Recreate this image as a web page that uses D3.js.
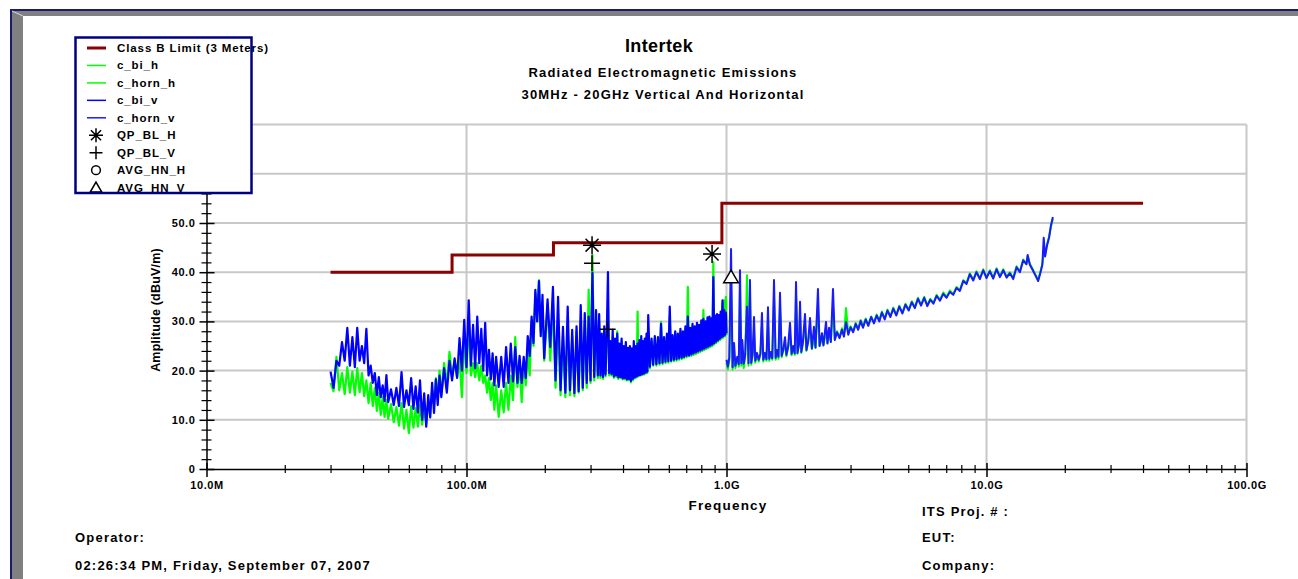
<!DOCTYPE html>
<html>
<head>
<meta charset="utf-8">
<script src="https://cdn.jsdelivr.net/npm/d3@7"></script>
<style>
  body { margin: 0; background: #fff; }
  text { font-family: "Liberation Sans", Arial, sans-serif; font-weight: bold; fill: #000; }
</style>
</head>
<body>
<svg></svg>
<script>
// ---- data (frequency in MHz, level in dBuV/m) ----

let xTickValues = [10, 100, 1000, 10000, 100000];
let xTickLabels = ['10.0M', '100.0M', '1.0G', '10.0G', '100.0G'];
let yTickValues = [0, 10, 20, 30, 40, 50, 60, 70];
// 60 and 70 sit under the legend box
let yTickLabels = ['0', '10.0', '20.0', '30.0', '40.0', '50.0', '', ''];

// Class B limit, steps at 88, 216 and 960 MHz
let limitFreq = [30, 88, 216, 960, 40000];
let limitLevel = [40, 43.5, 46, 54, 54];

// biconical sweep 30 MHz - 1 GHz
let biFreq = [
  30, 30.8, 31.6, 32.4, 33.2, 34, 34.8, 35.6, 36.4, 37.2, 38, 38.8, 39.6, 40.4, 41.2, 42, 42.8, 43.6, 44.4, 45.2, 46, 46.8, 47.6, 48.4, 49.2, 50,
  51.25, 52.5, 53.75, 55, 56.25, 57.5, 58.75, 60, 61.25, 62.5, 63.75, 65, 66.25, 67.5, 68.75, 70, 71.25, 72.5, 73.75, 75, 76.25, 77.5, 78.75, 80,
  82, 84, 86, 88, 90, 92, 94, 96, 98, 100, 102, 104, 106, 108, 110, 112, 114, 116, 118, 120, 122, 124, 126, 128, 130,
  133, 136, 139, 142, 145, 148, 151, 154, 157, 160, 163, 166, 169, 172, 175, 178, 181, 184, 187, 190, 193, 196, 199,
  205, 210, 215, 220, 225, 230, 235, 240, 245, 250, 255, 260, 265, 270, 275, 280, 285, 290, 295, 300, 305, 310, 315, 320,
  323.75, 327.5, 331.25, 335, 338.75, 342.5, 346.25, 350, 353.75, 357.5, 361.25, 365, 368.75, 372.5, 376.25, 380,
  383.75, 387.5, 391.25, 395, 398.75, 402.5, 406.25, 410, 413.75, 417.5, 421.25, 425, 428.75, 432.5, 436.25, 440,
  443.75, 447.5, 451.25, 455, 458.75, 462.5, 466.25, 470, 473.75, 477.5, 481.25, 485, 488.75, 492.5, 496.25, 500,
  507.5, 515, 522.5, 530, 537.5, 545, 552.5, 560, 567.5, 575, 582.5, 590, 597.5, 605, 612.5, 620, 627.5, 635, 642.5, 650,
  657.5, 665, 672.5, 680, 687.5, 695, 702.5, 710, 717.5, 725, 732.5, 740, 747.5, 755, 762.5, 770, 777.5, 785, 792.5, 800,
  807.5, 815, 822.5, 830, 837.5, 845, 852.5, 860, 867.5, 875, 882.5, 890, 897.5, 905, 912.5, 920, 927.5, 935, 942.5, 950,
  957.5, 965, 972.5, 980, 987.5, 995, 1000
];
let biH = [
  17.5, 15.8, 22.8, 16, 19.5, 15.2, 20.7, 15.5, 19.8, 15, 20.5, 15.6, 19.5, 14.8, 18, 13.4, 17.5, 12.8, 16.5, 11.8, 15.5, 11, 14.6, 10.6, 14, 10.2,
  13.2, 9.5, 12.6, 8.8, 13.4, 8.2, 12, 7.3, 12.8, 8.4, 12.4, 8.6, 13, 9, 12, 9.3, 13.5, 11, 16, 13, 18.5, 14.6, 20, 15,
  21.5, 17, 23.8, 18.7, 22, 18.7, 22.5, 14.6, 27, 19.5, 31, 19, 21.5, 18.7, 21.5, 18, 21, 17.5, 19, 15.5, 18.5, 14, 17.5, 12, 17,
  10.6, 16, 11.5, 17.5, 12, 19, 14, 26.8, 16.7, 21.5, 13.6, 22, 17, 23.6, 19, 30, 25, 35.8, 30, 38.4, 28, 33, 22,
  33.5, 22, 34, 16.5, 30, 15, 27, 14.6, 29, 15, 27, 14.8, 28, 15.5, 30, 16, 30, 16.5, 36.4, 17.5, 43.5, 18, 30, 18.5,
  30, 18.5, 27, 18.3, 28, 18.8, 26.5, 33, 19, 25.5, 19, 27, 18.5, 26, 18.7, 28,
  18.3, 25, 18.5, 26, 18.2, 24.8, 18.2, 25, 18, 24.3, 18.1, 24.8, 17.6, 24.2, 18, 25,
  18.4, 24.6, 18.6, 32, 18.8, 25.5, 19, 26, 19.1, 25.5, 19.2, 26, 19.4, 26.8, 19.5, 27,
  20.5, 26, 21, 26.5, 21, 26.3, 21.2, 29.9, 21.3, 26.5, 21.5, 27, 21.6, 31, 21.8, 27, 21.9, 27.6, 22, 27.3,
  22.2, 28, 22.3, 27.8, 22.5, 28.5, 22.7, 37, 22.9, 28.5, 23, 29, 23.2, 28.8, 23.4, 29.3, 23.6, 29, 23.8, 30,
  24, 32.3, 24.2, 29.8, 24.4, 30.2, 24.6, 30.5, 24.8, 30.3, 25, 42, 25.3, 30.8, 25.6, 31, 25.9, 31, 26.2, 31.5,
  26.5, 33.5, 26.7, 34.3, 27, 35, 27.2
];
let biV = [
  19.8, 16.5, 22, 21, 25.8, 22, 28.7, 21, 26.8, 20.7, 28.7, 22, 25, 21.5, 28.5, 19, 21, 17.5, 19.5, 15, 18.7, 14.6, 17, 13.8, 19.1, 13.6,
  16.2, 13, 16.5, 12.8, 19.7, 12.6, 16, 13, 18.5, 12.2, 16.8, 11.5, 18, 10, 15.4, 8.6, 15, 10.5, 17.5, 11.4, 18.2, 13, 19, 14.6,
  20.5, 15.5, 22, 18, 22.5, 18.5, 26.6, 20, 30.3, 20.7, 34.3, 21, 29.3, 20.5, 31, 21.5, 28.5, 20, 29.7, 19, 24.2, 18.2, 23.5, 17, 22.8,
  16.7, 22.8, 16.7, 24.8, 17.5, 25.5, 17.8, 24.8, 17.5, 23, 17.5, 22.8, 18.5, 27, 23, 31, 25.6, 36.4, 30, 38.2, 27, 35.4, 22.5,
  34.5, 24.8, 37, 18, 35, 16, 28.9, 15.5, 33, 16, 28.3, 15.4, 29, 15.8, 33.3, 16.5, 31.7, 17.5, 31, 18, 39.8, 18.7, 32.3, 19,
  31.5, 19, 27.5, 18.7, 29, 19.2, 27, 40, 19.5, 26, 19.3, 28.3, 18.8, 26.5, 19, 27.5,
  18.6, 25.5, 18.7, 26.5, 18.4, 25, 18.5, 25.8, 18.2, 24.6, 18.3, 25, 17.9, 24.5, 18.3, 26,
  18.6, 25, 18.8, 25.5, 19, 26.2, 19.1, 27, 19.3, 26, 19.4, 26.5, 19.6, 27.5, 19.8, 31.3,
  20.8, 26.5, 21.2, 27, 21.3, 26.8, 21.5, 29.5, 21.6, 26.8, 21.8, 27.5, 21.9, 33, 22, 27.2, 22.2, 28, 22.3, 27.5,
  22.5, 28.5, 22.6, 28, 22.8, 29, 23, 31, 23.1, 28.7, 23.3, 29.5, 23.5, 29, 23.7, 29.7, 23.9, 29.3, 24.1, 30.2,
  24.3, 30.5, 24.5, 30, 24.7, 30.8, 24.9, 31, 25.1, 30.6, 25.3, 39, 25.6, 31.2, 25.9, 31.5, 26.2, 31.3, 26.5, 32,
  26.8, 34.3, 27, 32.3, 27.3, 31.8, 27.6
];

// horn sweep 1 GHz - 18 GHz
let hornFreq = [
  1000, 1012, 1025, 1041, 1055, 1069, 1082, 1100, 1115, 1127, 1140, 1150, 1165, 1180, 1199, 1215, 1231, 1245, 1260, 1276,
  1290, 1310, 1330, 1350, 1369, 1385, 1405, 1425, 1444, 1460, 1480, 1500, 1523, 1545, 1565, 1585, 1606, 1630, 1655, 1679,
  1700, 1725, 1755, 1780, 1805, 1830, 1851, 1875, 1900, 1918, 1940, 1965, 2004, 2030, 2060, 2095, 2130, 2170, 2200, 2248,
  2280, 2329, 2360, 2414, 2445, 2480, 2520, 2568, 2610, 2660, 2720, 2780, 2830, 2882, 2940, 3000, 3070, 3140, 3210, 3280,
  3350, 3430, 3510, 3600, 3690, 3780, 3870, 3960, 4060, 4160, 4270, 4380, 4500, 4620, 4750, 4880, 5020, 5160, 5300, 5450,
  5600, 5760, 5920, 6080, 6250, 6430, 6620, 6820, 7020, 7230, 7450, 7670, 7900, 8140, 8380, 8630, 8890, 9150, 9430, 9710,
  10000, 10300, 10610, 10930, 11260, 11600, 11950, 12300, 12670, 13050, 13440, 13840, 14250, 14400, 14680, 15000, 15400, 15800, 16100, 16400,
  16600, 16800, 17100, 17400, 17700, 18000
];
let hornH = [
  21.6, 20.2, 22, 38, 20.2, 22.5, 20.5, 22.4, 20.8, 36, 21, 24, 20.5, 22.8, 39.4, 21, 35, 21.2, 23, 28,
  21.6, 23.2, 21.8, 23.2, 29, 21.8, 23.3, 22, 30, 22, 23.5, 22.2, 35, 22.2, 24, 22.4, 33, 22.7, 24.2, 25,
  22.9, 24.6, 27, 23.1, 24.8, 23.2, 35, 23.4, 25.5, 31, 23.6, 25.7, 29, 24, 26, 28, 24.4, 26.5, 24.6, 33,
  25, 26.5, 25.2, 28, 25.6, 27.5, 26, 33, 26.4, 28, 26.8, 28.6, 27.1, 32.7, 27.5, 29, 28, 29.7, 28.5, 30.3,
  28.9, 30.6, 29.3, 31, 29.8, 31.4, 30.2, 32, 30.6, 32.4, 31.1, 32.8, 31.4, 33.2, 31.8, 33.6, 32.4, 34.1, 32.9, 34.8,
  33.4, 35, 33.3, 34.6, 33.8, 35.4, 34.4, 35.9, 35, 36.3, 35.6, 37, 36.4, 38.4, 37.8, 39.8, 38.5, 40.2, 38.8, 40.6,
  39, 40.4, 38.9, 40.8, 39.2, 40.6, 39.1, 40, 38.8, 41.2, 40.2, 42.6, 41.8, 43.2, 41.7, 40.8, 39.6, 38.5, 40, 41.7,
  44, 43.4, 45.7, 47.2, 49.3, 50.8
];
let hornV = [
  22.2, 20.8, 22.6, 44.7, 20.7, 25.6, 21, 22.8, 21.3, 40.4, 21.5, 26.2, 21.4, 23.2, 33, 21.5, 38.4, 21.6, 23.4, 30.9,
  22, 23.6, 22.2, 23.5, 31.7, 22.2, 23.6, 22.3, 32.9, 22.4, 23.8, 22.5, 38.4, 22.6, 24.2, 22.8, 35.8, 23, 24.4, 26.8,
  23.2, 24.8, 29.7, 23.4, 25, 23.5, 38, 23.6, 25.3, 34, 23.8, 25.5, 31.5, 24.2, 25.8, 30.7, 24.5, 28.9, 24.7, 36.6,
  25, 27.6, 25.1, 29.9, 25.5, 28.7, 25.8, 36.6, 26.2, 27.8, 26.6, 28.3, 26.9, 29.9, 27.3, 28.8, 27.8, 29.5, 28.3, 30.1,
  28.7, 30.4, 29.1, 30.9, 29.6, 31.2, 30, 31.8, 30.4, 32.2, 30.9, 32.6, 31.2, 33, 31.6, 33.4, 32.2, 33.9, 32.7, 34.6,
  33.2, 34.8, 33.1, 34.4, 33.6, 35.2, 34.2, 35.6, 34.8, 36, 35.4, 36.8, 36.2, 38.2, 37.6, 39.6, 38.3, 40, 38.6, 40.4,
  38.8, 40.2, 38.7, 40.6, 39, 40.4, 38.9, 39.8, 38.6, 41, 40, 42.4, 41.6, 43.5, 41.5, 40.6, 39.4, 38.2, 39.8, 41.5,
  47, 43.2, 45.5, 47, 49.5, 51.2
];

// final measurements
let qpBlH = [[304, 45.5], [880, 43.7]];
let qpBlV = [[304, 41.8], [349, 28.4]];
let avgHnH = [];
let avgHnV = [[1041, 39.0]];

let legendNames = ['Class B Limit (3 Meters)', 'c_bi_h', 'c_horn_h', 'c_bi_v', 'c_horn_v',
                   'QP_BL_H', 'QP_BL_V', 'AVG_HN_H', 'AVG_HN_V'];

// ---- drawing ----

let svgWidth = 1298,
    svgHeight = 579;

let svg = d3.select('svg')
            .attr('width', svgWidth)
            .attr('height', svgHeight);

let x = d3.scaleLog().domain([10, 100000]).range([206.5, 1246.5]);
let y = d3.scaleLinear().domain([0, 70]).range([469, 124.6]);

let colors = {limit: '#8b0000', biH: '#00ff00', hornH: '#00ff00', biV: '#0000ff', hornV: '#1a1aff'};

// window frame
svg.append('rect').attr('x', 10).attr('y', 9).attr('width', 1288).attr('height', 2).attr('fill', '#1c1c6c');
svg.append('rect').attr('x', 12).attr('y', 11).attr('width', 1286).attr('height', 5).attr('fill', '#808080');
svg.append('rect').attr('x', 10).attr('y', 9).attr('width', 2).attr('height', 570).attr('fill', '#1c1c6c');
svg.append('rect').attr('x', 12).attr('y', 11).attr('width', 11).attr('height', 568).attr('fill', '#808080');
svg.append('line').attr('x1', 12).attr('y1', 11).attr('x2', 23).attr('y2', 16)
   .attr('stroke', '#d8d8d8').attr('stroke-width', 1);

// grid
svg.append('g').selectAll('line')
   .data(yTickValues.slice(1))
   .join('line')
   .attr('x1', x(10)).attr('x2', x(100000))
   .attr('y1', d => y(d)).attr('y2', d => y(d))
   .attr('stroke', '#c8c8c8').attr('stroke-width', 2);

svg.append('g').selectAll('line')
   .data(xTickValues.slice(1))
   .join('line')
   .attr('x1', d => x(d)).attr('x2', d => x(d))
   .attr('y1', y(0)).attr('y2', y(70))
   .attr('stroke', '#c8c8c8').attr('stroke-width', 2);

// traces
let line = d3.line().x(d => x(d[0])).y(d => y(d[1]));

function drawTrace(freq, level, color, w) {
  svg.append('path')
     .datum(d3.zip(freq, level))
     .attr('d', line)
     .attr('fill', 'none')
     .attr('stroke', color)
     .attr('stroke-width', w)
     .attr('stroke-linejoin', 'round');
}

drawTrace(biFreq, biH, colors.biH, 2.2);
drawTrace(hornFreq, hornH, colors.hornH, 2);
drawTrace(biFreq, biV, colors.biV, 2.2);
drawTrace(hornFreq, hornV, colors.hornV, 2);

// limit
svg.append('path')
   .datum(d3.zip(limitFreq, limitLevel))
   .attr('d', line.curve(d3.curveStepAfter))
   .attr('fill', 'none')
   .attr('stroke', colors.limit)
   .attr('stroke-width', 3);
line.curve(d3.curveLinear);

// marker shapes
function asterisk(r) {
  let k = r * 0.72;
  return `M${-r},0H${r}M0,${-r}V${r}M${-k},${-k}L${k},${k}M${-k},${k}L${k},${-k}`;
}
function plus(r) { return `M${-r},0H${r}M0,${-r}V${r}`; }
function triangle(r) { return `M0,${-r}L${r * 1.05},${r * 0.8}H${-r * 1.05}Z`; }

function drawMarks(points, shape, extra) {
  svg.append('g').selectAll('path')
     .data(points)
     .join('path')
     .attr('transform', d => `translate(${x(d[0])},${y(d[1])})`)
     .attr('d', shape)
     .attr('fill', extra === 'open' ? '#fff' : 'none')
     .attr('stroke', '#000')
     .attr('stroke-width', 1.5);
}

drawMarks(qpBlH, asterisk(9));
drawMarks(qpBlV, plus(8));
drawMarks(avgHnH, d3.symbol(d3.symbolCircle, 80)(), 'open');
drawMarks(avgHnV, triangle(7), 'open');

// axes
let gx = svg.append('g')
            .attr('transform', `translate(0,${y(0)})`)
            .call(d3.axisBottom(x).tickValues(xTickValues)
                    .tickFormat((d, i) => xTickLabels[i])
                    .tickSize(8).tickSizeOuter(0));
gx.select('.domain').attr('stroke-width', 1.5);
gx.selectAll('.tick line').attr('y1', -6).attr('stroke-width', 1.5);
gx.selectAll('.tick text').attr('y', 12).attr('font-size', 11).attr('letter-spacing', 0.6);

let xMinor = x.ticks().filter(d => xTickValues.indexOf(d) < 0);
let gxm = svg.append('g')
             .attr('transform', `translate(0,${y(0)})`)
             .call(d3.axisBottom(x).tickValues(xMinor).tickFormat('').tickSize(4));
gxm.select('.domain').remove();
gxm.selectAll('.tick line').attr('y1', -4).attr('stroke-width', 1.2);

let gy = svg.append('g')
            .attr('transform', `translate(${x(10)},0)`)
            .call(d3.axisLeft(y).tickValues(yTickValues)
                    .tickFormat((d, i) => yTickLabels[i])
                    .tickSize(7).tickSizeOuter(0));
gy.select('.domain').attr('stroke-width', 1.5);
gy.selectAll('.tick line').attr('x1', 8).attr('stroke-width', 1.5);
gy.selectAll('.tick text').attr('x', -11).attr('font-size', 11).attr('letter-spacing', 0.6);

let yMinor = y.ticks(35).filter(d => d % 10 !== 0);
let gym = svg.append('g')
             .attr('transform', `translate(${x(10)},0)`)
             .call(d3.axisLeft(y).tickValues(yMinor).tickFormat('').tickSize(5));
gym.select('.domain').remove();
gym.selectAll('.tick line').attr('x1', 5).attr('stroke-width', 1.2);

// titles
svg.append('text').attr('x', 659).attr('y', 52).attr('text-anchor', 'middle')
   .attr('font-size', 18).attr('letter-spacing', 0.4).text('Intertek');
svg.append('text').attr('x', 663).attr('y', 77).attr('text-anchor', 'middle')
   .attr('font-size', 13).attr('letter-spacing', 1.2).text('Radiated Electromagnetic Emissions');
svg.append('text').attr('x', 663).attr('y', 99).attr('text-anchor', 'middle')
   .attr('font-size', 13).attr('letter-spacing', 1.2).text('30MHz - 20GHz Vertical And Horizontal');

svg.append('text')
   .attr('transform', 'translate(160,310) rotate(-90)')
   .attr('text-anchor', 'middle')
   .attr('font-size', 12.5).attr('letter-spacing', 0.2)
   .text('Amplitude (dBuV/m)');
svg.append('text').attr('x', 728).attr('y', 510).attr('text-anchor', 'middle')
   .attr('font-size', 13.5).attr('letter-spacing', 1.2).text('Frequency');

// footer
let footer = [
  ['ITS Proj. # :', 922, 516], ['EUT:', 922, 542], ['Company:', 922, 570],
  ['Operator:', 75, 542], ['02:26:34 PM, Friday, September 07, 2007', 75, 570]
];
svg.append('g').selectAll('text')
   .data(footer)
   .join('text')
   .attr('x', d => d[1]).attr('y', d => d[2])
   .attr('font-size', 13).attr('letter-spacing', 1.2)
   .text(d => d[0]);

// legend
let lg = svg.append('g');
lg.append('rect').attr('x', 75.5).attr('y', 37.5).attr('width', 176).attr('height', 155.5)
  .attr('fill', '#fff');
let rowY = i => 48 + i * 17.45;
let swatch = [colors.limit, colors.biH, colors.hornH, colors.biV, colors.hornV];
swatch.forEach((c, i) => {
  lg.append('line').attr('x1', 87).attr('x2', 106).attr('y1', rowY(i)).attr('y2', rowY(i))
    .attr('stroke', c).attr('stroke-width', i === 0 ? 3 : 1.5);
});
let legendShapes = [asterisk(7), plus(6.5), d3.symbol(d3.symbolCircle, 60)(), triangle(5.5)];
legendShapes.forEach((s, i) => {
  lg.append('path').attr('transform', `translate(96,${rowY(i + 5)})`)
    .attr('d', s).attr('fill', 'none').attr('stroke', '#000').attr('stroke-width', 1.5);
});
lg.selectAll('text')
  .data(legendNames)
  .join('text')
  .attr('x', 117).attr('y', (d, i) => rowY(i) + 4)
  .attr('font-size', 11.5).attr('letter-spacing', 0.9)
  .text(d => d);
lg.append('rect').attr('x', 75.5).attr('y', 37.5).attr('width', 176).attr('height', 155.5)
  .attr('fill', 'none').attr('stroke', '#000080').attr('stroke-width', 2.5);
</script>
</body>
</html>
